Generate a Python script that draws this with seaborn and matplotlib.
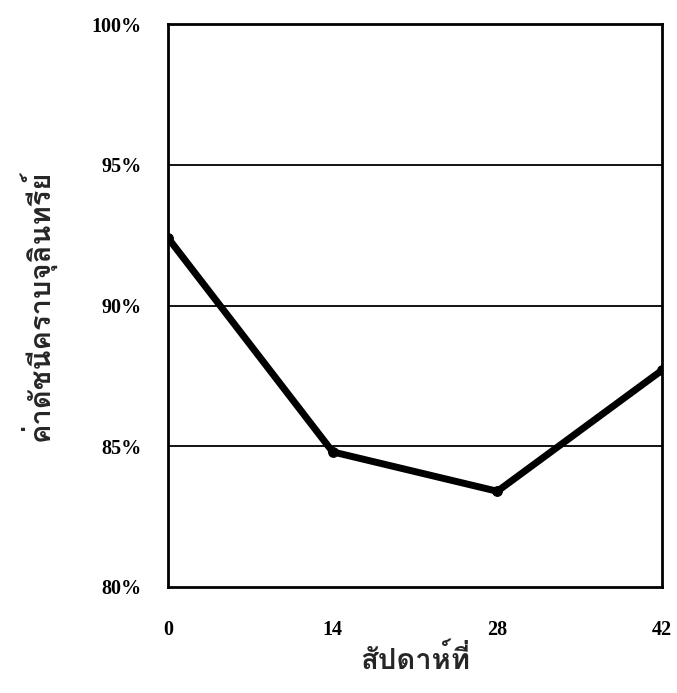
import numpy as np
import pandas as pd
import matplotlib
matplotlib.use("Agg")
import matplotlib.pyplot as plt
import seaborn as sns
from matplotlib import font_manager
from matplotlib.ticker import PercentFormatter
from fontTools.ttLib import TTFont

# data
weeks = [0, 14, 28, 42]
plaque_index = [92.4, 84.8, 83.4, 87.7]
y_ticks = [80, 85, 90, 95, 100]
x_label = "สัปดาห์ที่"
y_label = "ค่าดัชนีคราบจุลินทรีย์"

# look for any installed font with Thai glyphs
thai_font = None
for f in font_manager.fontManager.ttflist:
    try:
        cmap = TTFont(f.fname, fontNumber=0, lazy=True).getBestCmap()
    except Exception:
        continue
    if cmap and 0x0E04 in cmap:
        thai_font = f.name
        if f.weight in ("bold", 700):
            break

sns.set_theme(style="white")
families = ["Liberation Serif"] + ([thai_font] if thai_font else []) + ["DejaVu Sans"]
plt.rcParams["font.family"] = families

df = pd.DataFrame({"week": weeks, "value": plaque_index})

fig = plt.figure(figsize=(6.77, 6.93), dpi=100)
ax = fig.add_axes([168 / 677, 1 - 587 / 693, (662 - 168) / 677, (587 - 24) / 693])

sns.lineplot(data=df, x="week", y="value", ax=ax, color="black", linewidth=5,
             marker="o", markersize=7, markeredgecolor="black", zorder=3)

ax.set_xlim(0, 42)
ax.set_ylim(80, 100)
ax.set_xticks(weeks)
ax.set_yticks(y_ticks)
ax.yaxis.set_major_formatter(PercentFormatter(decimals=0))
for v in y_ticks[1:-1]:
    ax.axhline(v, color="black", linewidth=1.3, zorder=1)

for s in ax.spines.values():
    s.set_color("black")
    s.set_linewidth(2)

ax.tick_params(axis="y", direction="out", length=9, width=1.2, pad=10, labelsize=14.5, colors="black")
ax.tick_params(axis="x", direction="out", length=8, width=1.0, pad=16, labelsize=14.5, colors="black")
for lab in ax.get_xticklabels() + ax.get_yticklabels():
    lab.set_fontweight("bold")

ax.set_xlabel(x_label, fontsize=21, fontweight="bold", labelpad=3)
ax.set_ylabel(y_label, fontsize=21, fontweight="bold", labelpad=26)

fig.savefig("out.png", dpi=100)
